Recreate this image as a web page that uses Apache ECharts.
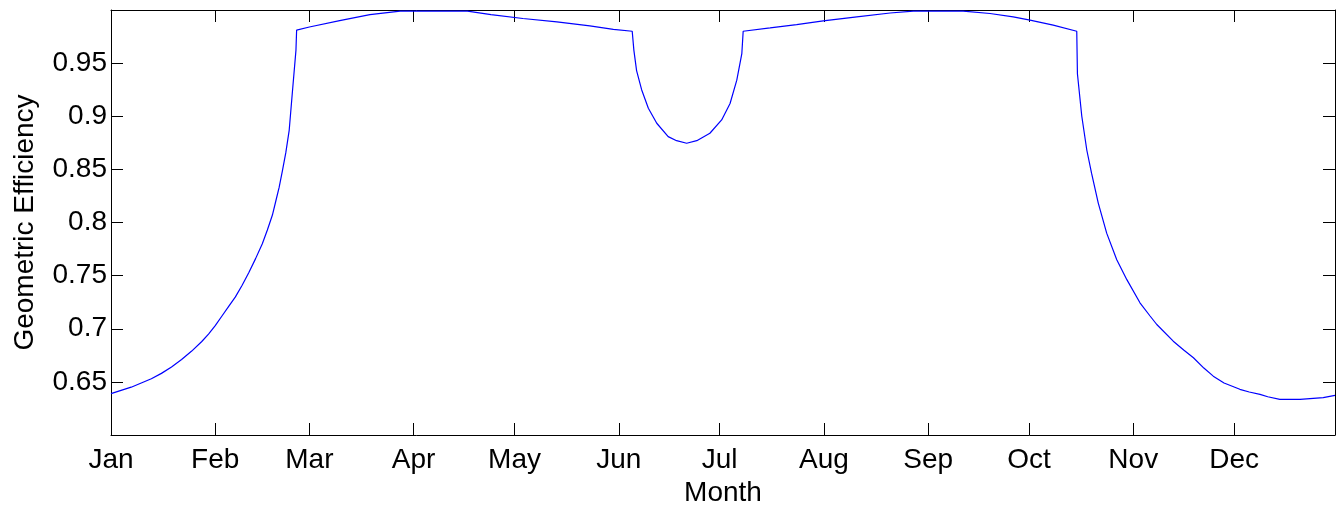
<!DOCTYPE html>
<html>
<head>
<meta charset="utf-8">
<script src="https://cdn.jsdelivr.net/npm/echarts@6/dist/echarts.min.js"></script>
<style>
    html, body { margin: 0; padding: 0; background: #fff; }
    #myChart { width: 1344px; height: 508px; }
</style>
</head>
<body>
<div id="myChart"></div>
<script>
// month ticks (day of year where each month starts)
var monthStarts = [1, 32, 60, 91, 121, 152, 182, 213, 244, 274, 305, 335]
var monthNames = ['Jan', 'Feb', 'Mar', 'Apr', 'May', 'Jun', 'Jul', 'Aug', 'Sep', 'Oct', 'Nov', 'Dec']

// day of year / geometric efficiency
var days = [1, 4, 7, 10, 13, 16, 19, 22, 25, 28, 30, 32, 34, 36, 38, 40, 42, 44, 46, 47.5, 49, 50, 51, 52, 53, 54, 55, 56, 56.2,
    60, 69, 78, 87, 107, 114, 123.5, 133.6, 143.4, 150.4, 156,
    156.5, 157.3, 158.8, 160.8, 163.3, 166.7, 169.2, 172.2, 175.2, 179.1, 182.6, 185.1, 187.1, 188.6, 189,
    197, 204.9, 212.8, 222.8, 232.7, 239.6, 254.4, 262.4, 269.3, 274.3, 281.2, 288.2,
    288.4, 289.7, 291.2, 292.6, 294.6, 297.1, 300.1, 303.1, 307, 310, 312, 316.9, 320, 322.9, 326, 328.8,
    332, 336.7, 339.5, 342.7, 345, 348.6, 354.6, 361.5, 365]
var efficiency = [0.639, 0.642, 0.645, 0.649, 0.653, 0.658, 0.664, 0.671, 0.679, 0.688, 0.695, 0.703, 0.712, 0.721, 0.73, 0.741, 0.753, 0.766, 0.78, 0.793, 0.807, 0.82, 0.833, 0.849, 0.866, 0.887, 0.925, 0.962, 0.981,
    0.984, 0.990, 0.9957, 0.999, 0.999, 0.9957, 0.992, 0.9888, 0.985, 0.9817, 0.980,
    0.962, 0.943, 0.925, 0.9075, 0.8934, 0.8808, 0.877, 0.8746, 0.877, 0.884, 0.8965, 0.912, 0.934, 0.959, 0.980,
    0.9831, 0.9863, 0.9897, 0.9935, 0.9972, 0.999, 0.999, 0.9967, 0.9935, 0.9904, 0.9857, 0.980,
    0.94, 0.90, 0.868, 0.8464, 0.8183, 0.790, 0.765, 0.7462, 0.7244, 0.712, 0.704, 0.6883, 0.680, 0.6727, 0.663, 0.6554,
    0.649, 0.643, 0.6405, 0.6383, 0.636, 0.6336, 0.6336, 0.6352, 0.6373]

var seriesData = []
for (var i = 0; i < days.length; i++) {
    seriesData.push([days[i], efficiency[i]])
}

var font = 'Liberation Sans, Arial, sans-serif'
var axisLine = { show: true, onZero: false, lineStyle: { color: '#000', width: 1 } }
var tickStyle = { color: '#000', width: 1 }

var myChart = echarts.init(document.getElementById('myChart'))
myChart.setOption({
    animation: false,
    backgroundColor: '#fff',
    grid: { left: 111, right: 9, top: 10, bottom: 73, containLabel: false, outerBoundsMode: 'none' },
    xAxis: [{
        type: 'value',
        min: 1,
        max: 365,
        name: 'Month',
        nameLocation: 'middle',
        nameGap: 38,
        nameTextStyle: { color: '#000', fontFamily: font, fontSize: 28 },
        axisLine: axisLine,
        axisTick: { inside: true, length: 12, customValues: monthStarts, lineStyle: tickStyle },
        axisLabel: {
            customValues: monthStarts,
            margin: 11,
            color: '#000',
            fontFamily: font,
            fontSize: 28,
            formatter: function (v) {
                return monthNames[monthStarts.indexOf(v)]
            }
        },
        splitLine: { show: false }
    }, {
        // mirrored box edge on top
        type: 'value',
        position: 'top',
        min: 1,
        max: 365,
        axisLine: axisLine,
        axisTick: { inside: true, length: 12, customValues: monthStarts, lineStyle: tickStyle },
        axisLabel: { show: false },
        splitLine: { show: false }
    }],
    yAxis: [{
        type: 'value',
        min: 0.6,
        max: 1.0,
        interval: 0.05,
        name: 'Geometric Efficiency',
        nameLocation: 'middle',
        nameGap: 72,
        nameTextStyle: { color: '#000', fontFamily: font, fontSize: 28 },
        axisLine: axisLine,
        axisTick: { inside: true, length: 12, lineStyle: tickStyle },
        axisLabel: {
            margin: 4,
            color: '#000',
            fontFamily: font,
            fontSize: 28,
            formatter: function (v) {
                var r = Math.round(v * 100) / 100
                if (r <= 0.6 || r >= 1.0) return ''
                return String(r)
            }
        },
        splitLine: { show: false }
    }, {
        // mirrored box edge on right
        type: 'value',
        position: 'right',
        min: 0.6,
        max: 1.0,
        interval: 0.05,
        axisLine: axisLine,
        axisTick: { inside: true, length: 12, lineStyle: tickStyle },
        axisLabel: { show: false },
        splitLine: { show: false }
    }],
    series: [{
        type: 'line',
        xAxisIndex: 0,
        yAxisIndex: 0,
        data: seriesData,
        showSymbol: false,
        lineStyle: { color: '#0000ff', width: 1.2 }
    }]
})
</script>
</body>
</html>
